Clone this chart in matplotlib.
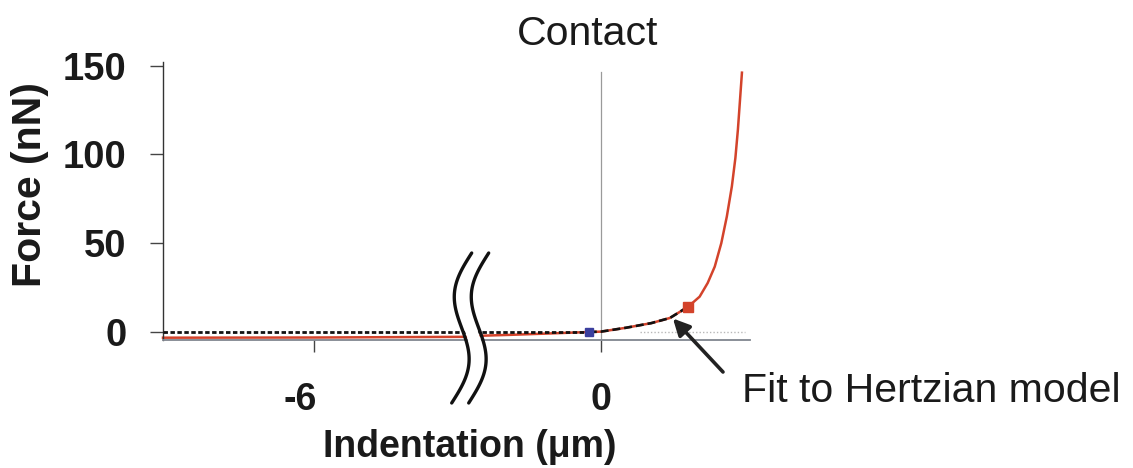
import numpy as np
import matplotlib
matplotlib.use("Agg")
import matplotlib.pyplot as plt
from matplotlib.patches import Polygon
from matplotlib.lines import Line2D
from matplotlib.transforms import ScaledTranslation

plt.rcParams["font.family"] = ["Liberation Sans", "DejaVu Sans"]

# ---- data (indentation in um, force in nN) ----
# approach curve, far segment (left of the axis break)
far_x = [-9.0, -6.0, -2.8]
far_f = [-3.2, -3.1, -2.7]

# approach curve, near segment (right of the axis break)
near_x = [-2.5, -1.8, -1.0, -0.24, 0.0, 0.5, 1.0, 1.37, 1.73, 1.96, 2.12,
          2.26, 2.39, 2.50, 2.60, 2.67, 2.72, 2.76, 2.80]
near_f = [-2.2, -1.6, -0.8, 0.0, 0.2, 2.4, 5.0, 7.9, 14.2, 19.9, 27.6,
          36.8, 50.0, 65.0, 82.0, 98.0, 114.0, 130.0, 146.0]

# baseline (zero force) up to the contact point
base_far_x = [-9.0, -2.8]
base_near_x = [-2.5, -0.24]
base_f = [0.0, 0.0]

# Hertzian fit from contact point to end of fit range
fit_x = [-0.24, 0.0, 0.5, 1.0, 1.37, 1.73]
fit_f = [0.0, 0.2, 2.4, 5.0, 7.9, 14.2]

contact_pt = (-0.24, 0.0)
fit_end_pt = (1.73, 14.2)

zero_ref_x = [0.77, 2.86]

y_ticks = [0, 50, 100, 150]
far_ticks = [-6]
near_ticks = [0]

W, H = 1133, 468
fig = plt.figure(figsize=(W / 100, H / 100), dpi=100)


def fx(px):
    return px / W


def fy(py):
    return 1 - py / H


ax_top, ax_bot = 62, 340
brk = 475
axL = fig.add_axes([fx(163), fy(ax_bot), fx(brk) - fx(163), fy(ax_top) - fy(ax_bot)])
axR = fig.add_axes([fx(brk), fy(ax_bot), fx(750) - fx(brk), fy(ax_top) - fy(ax_bot)])

ylim = (-4.5, 152)
red = "#d3432b"
spine_gray = "#80868f"

for ax in (axL, axR):
    ax.set_ylim(*ylim)
    ax.spines["top"].set_visible(False)
    ax.spines["right"].set_visible(False)
    ax.spines["bottom"].set_color(spine_gray)
    ax.spines["bottom"].set_linewidth(1.3)
    ax.patch.set_alpha(0)
    ax.tick_params(axis="x", direction="out", length=8.6, width=1.0,
                   color="#444444", pad=22, labelsize=27)

axL.set_xlim(-9.0, -2.8)
axR.set_xlim(-2.5, 2.96)

axL.spines["left"].set_color("#333333")
axL.spines["left"].set_linewidth(1.0)
axR.spines["left"].set_visible(False)
axR.tick_params(axis="y", left=False, labelleft=False)
axL.tick_params(axis="y", direction="out", length=9.4, width=1.0,
                color="#444444", pad=17, labelsize=27.5)

axL.set_yticks(y_ticks)
axL.set_yticklabels([str(v) for v in y_ticks], fontweight="bold", color="#1a1a1a")
axL.set_xticks(far_ticks)
axL.set_xticklabels(["-6"], fontweight="bold", color="#1a1a1a")
axR.set_xticks(near_ticks)
axR.set_xticklabels(["0"], fontweight="bold", color="#1a1a1a")
for lab in axL.get_xticklabels():
    lab.set_transform(lab.get_transform() + ScaledTranslation(-0.14, 0, fig.dpi_scale_trans))

# vertical guide at zero indentation
axR.axvline(0, ymin=0, ymax=(ax_bot - 72) / (ax_bot - ax_top), color="#9a9a9a", lw=0.9, zorder=1)
# faint zero-force reference
axR.plot(zero_ref_x, [0, 0], color="#b8b8b8", lw=1.0, ls=(0, (1, 1.5)), zorder=1)

# data curves
axL.plot(far_x, far_f, color=red, lw=1.8, zorder=2, clip_on=False)
axR.plot(near_x, near_f, color=red, lw=1.8, zorder=2, clip_on=False,
         solid_joinstyle="round")

dots = (0, (1.6, 0.9))
axL.plot(base_far_x, base_f, color="#111111", lw=2.0, ls=dots, zorder=3)
axR.plot(base_near_x, base_f, color="#111111", lw=2.0, ls=dots, zorder=3)
axR.plot(fit_x, fit_f, color="#111111", lw=1.9, ls=(0, (3, 1.5)), zorder=3)

axR.plot(*contact_pt, marker="s", ms=6, color="#3b3f9e", mec="#3b3f9e", zorder=4)
axR.plot(*fit_end_pt, marker="s", ms=7, color=red, mec=red, zorder=4)

# arrow pointing at the fitted segment
axR.annotate("", xy=(1.43, 7.6), xycoords="data",
             xytext=(723, H - 372), textcoords="figure pixels",
             arrowprops=dict(arrowstyle="-|>,head_length=1.0,head_width=0.5",
                             color="#222222", lw=2.6, shrinkA=0, shrinkB=0),
             zorder=6)

# axis-break marks
t = np.linspace(0, 1, 120)
ys = 253 + 150 * t
xs1 = 471.7 - 20 * t - 12 * np.sin(2 * np.pi * t)
xs2 = xs1 + 17
poly = np.column_stack([np.concatenate([xs1 + 2, (xs2 - 2)[::-1]]),
                        np.concatenate([ys, ys[::-1]])])
fig.add_artist(Polygon([(fx(a), fy(b)) for a, b in poly], closed=True,
                       transform=fig.transFigure, facecolor="white",
                       edgecolor="none", zorder=5))
for xs in (xs1, xs2):
    fig.add_artist(Line2D(fx(xs), fy(ys), transform=fig.transFigure,
                          color="#111111", lw=2.4, solid_capstyle="round", zorder=6))

# labels and annotations
fig.text(fx(30), fy(185), "Force (nN)", rotation=90, ha="center", va="center",
         fontsize=29.5, fontweight="bold", color="#1a1a1a")
fig.text(fx(470), fy(447), "Indentation (\u03bcm)", ha="center", va="center",
         fontsize=27, fontweight="bold", color="#1a1a1a")
fig.text(fx(588), fy(34), "Contact", ha="center", va="center",
         fontsize=29.5, color="#1a1a1a")
fig.text(fx(742), fy(402), "Fit to Hertzian model", ha="left", va="baseline",
         fontsize=29.5, color="#1a1a1a")

fig.savefig("out.png", dpi=100)
